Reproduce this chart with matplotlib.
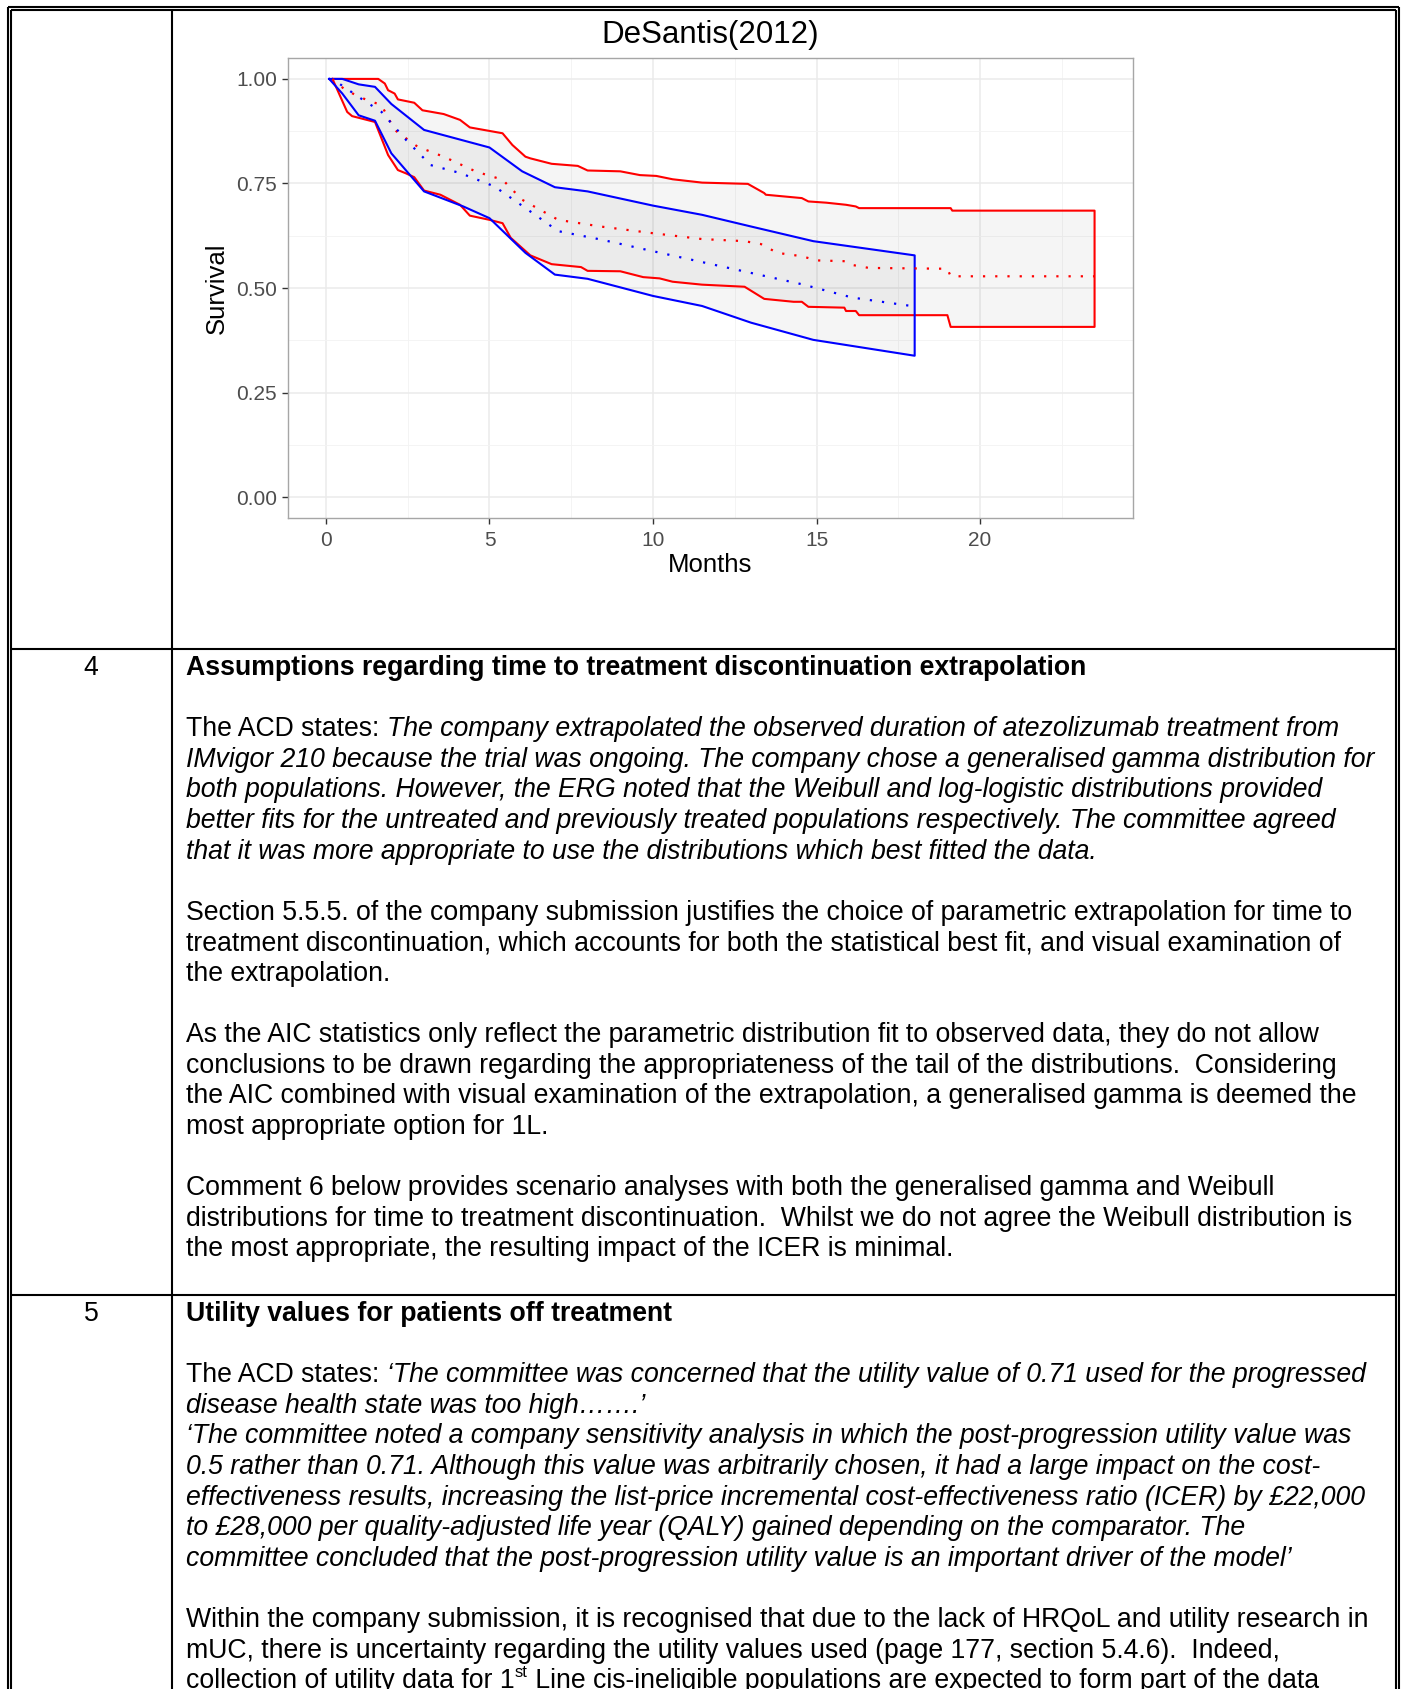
import matplotlib
matplotlib.use("Agg")
import matplotlib.pyplot as plt
from matplotlib.ticker import MultipleLocator, FormatStrFormatter

red_upper_t = [0.2, 1.6, 1.8, 1.9, 2.1, 2.2, 2.7, 2.95, 3.6, 4.1, 4.4, 5.4, 5.7, 6.1, 6.25,
               6.9, 7.7, 8.0, 9.0, 9.6, 10.1, 10.6, 11.5, 12.9, 13.4, 13.45, 14.55, 14.75,
               15.3, 15.9, 16.2, 16.3, 19.1, 19.15, 23.5]
red_upper_s = [1.0, 1.0, 0.989, 0.973, 0.965, 0.951, 0.943, 0.925, 0.916, 0.902, 0.884, 0.870,
               0.842, 0.814, 0.810, 0.797, 0.792, 0.781, 0.779, 0.770, 0.768, 0.760, 0.752,
               0.749, 0.727, 0.723, 0.715, 0.707, 0.704, 0.699, 0.695, 0.691, 0.691, 0.685, 0.685]
red_lower_t = [0.2, 0.65, 0.8, 1.5, 1.9, 2.2, 2.45, 2.7, 3.0, 3.5, 4.1, 4.4, 5.0, 5.4, 5.65,
               6.25, 6.9, 7.8, 8.0, 9.0, 9.7, 10.2, 10.6, 11.5, 12.8, 13.4, 14.3, 14.55, 14.75,
               15.3, 15.85, 15.9, 16.2, 16.3, 19.0, 19.1, 23.5]
red_lower_s = [1.0, 0.921, 0.911, 0.897, 0.818, 0.782, 0.774, 0.765, 0.733, 0.723, 0.699, 0.673,
               0.663, 0.655, 0.620, 0.578, 0.557, 0.550, 0.541, 0.540, 0.526, 0.523, 0.515,
               0.508, 0.503, 0.474, 0.467, 0.467, 0.455, 0.454, 0.453, 0.445, 0.445, 0.435,
               0.435, 0.407, 0.407]
red_mid_t = [0.2, 0.6, 1.15, 1.7, 2.1, 2.8, 3.6, 4.6, 5.4, 6.0, 7.1, 8.4, 10.0, 11.5, 12.8,
             13.3, 13.8, 14.55, 15.0, 15.9, 16.1, 16.6, 19.0, 19.1, 23.5]
red_mid_s = [1.0, 0.973, 0.953, 0.937, 0.878, 0.838, 0.814, 0.778, 0.759, 0.711, 0.663, 0.647,
             0.631, 0.617, 0.612, 0.605, 0.584, 0.576, 0.566, 0.564, 0.555, 0.548, 0.546,
             0.528, 0.528]
blue_upper_t = [0.1, 0.5, 1.0, 1.5, 2.0, 3.0, 5.0, 6.0, 7.0, 8.0, 10.0, 11.5, 13.0, 14.9, 18.0]
blue_upper_s = [1.0, 1.0, 0.987, 0.981, 0.940, 0.878, 0.836, 0.779, 0.741, 0.731, 0.697, 0.675,
                0.647, 0.612, 0.578]
blue_lower_t = [0.1, 0.5, 1.0, 1.5, 2.0, 3.0, 4.2, 5.0, 6.1, 7.0, 8.0, 10.0, 11.5, 13.0, 14.9, 18.0]
blue_lower_s = [1.0, 0.965, 0.913, 0.900, 0.822, 0.731, 0.695, 0.667, 0.584, 0.532, 0.522,
                0.481, 0.457, 0.417, 0.376, 0.338]
blue_mid_t = [0.1, 0.4, 1.15, 1.7, 2.45, 3.2, 4.1, 5.15, 6.25, 7.1, 8.4, 10.0, 11.5, 13.0,
              14.55, 16.1, 17.9]
blue_mid_s = [1.0, 0.989, 0.949, 0.921, 0.854, 0.794, 0.775, 0.743, 0.683, 0.636, 0.616, 0.588,
              0.562, 0.536, 0.509, 0.477, 0.457]

x_ticks = [0, 5, 10, 15, 20]
y_ticks = [0.00, 0.25, 0.50, 0.75, 1.00]

# ---- table text: (row number, heading, lines); "" is a blank line ----
row4_number = "4"
row4_heading = "Assumptions regarding time to treatment discontinuation extrapolation"
row4_lines = [
    "",
    [("The ACD states: ", "n"), ("The company extrapolated the observed duration of atezolizumab treatment from", "i")],
    [("IMvigor 210 because the trial was ongoing. The company chose a generalised gamma distribution for", "i")],
    [("both populations. However, the ERG noted that the Weibull and log-logistic distributions provided", "i")],
    [("better fits for the untreated and previously treated populations respectively. The committee agreed", "i")],
    [("that it was more appropriate to use the distributions which best fitted the data.", "i")],
    "",
    [("Section 5.5.5. of the company submission justifies the choice of parametric extrapolation for time to", "n")],
    [("treatment discontinuation, which accounts for both the statistical best fit, and visual examination of", "n")],
    [("the extrapolation.", "n")],
    "",
    [("As the AIC statistics only reflect the parametric distribution fit to observed data, they do not allow", "n")],
    [("conclusions to be drawn regarding the appropriateness of the tail of the distributions.  Considering", "n")],
    [("the AIC combined with visual examination of the extrapolation, a generalised gamma is deemed the", "n")],
    [("most appropriate option for 1L.", "n")],
    "",
    [("Comment 6 below provides scenario analyses with both the generalised gamma and Weibull", "n")],
    [("distributions for time to treatment discontinuation.  Whilst we do not agree the Weibull distribution is", "n")],
    [("the most appropriate, the resulting impact of the ICER is minimal.", "n")],
]
row5_number = "5"
row5_heading = "Utility values for patients off treatment"
row5_lines = [
    "",
    [("The ACD states: ", "n"), ("\u2018The committee was concerned that the utility value of 0.71 used for the progressed", "i")],
    [("disease health state was too high\u2026\u2026.\u2019", "i")],
    [("\u2018The committee noted a company sensitivity analysis in which the post-progression utility value was", "i")],
    [("0.5 rather than 0.71. Although this value was arbitrarily chosen, it had a large impact on the cost-", "i")],
    [("effectiveness results, increasing the list-price incremental cost-effectiveness ratio (ICER) by \u00a322,000", "i")],
    [("to \u00a328,000 per quality-adjusted life year (QALY) gained depending on the comparator. The", "i")],
    [("committee concluded that the post-progression utility value is an important driver of the model\u2019", "i")],
    "",
    [("Within the company submission, it is recognised that due to the lack of HRQoL and utility research in", "n")],
    [("mUC, there is uncertainty regarding the utility values used (page 177, section 5.4.6).  Indeed,", "n")],
    [("collection of utility data for 1", "n"), ("st", "sup"),
     (" Line cis-ineligible populations are expected to form part of the data", "n")],
]

W, H = 1402, 1689
plt.rcParams['font.family'] = ['Liberation Sans', 'DejaVu Sans']

fig = plt.figure(figsize=(W / 100, H / 100), dpi=100)
page = fig.add_axes([0, 0, 1, 1])
page.set_xlim(0, W)
page.set_ylim(H, 0)
page.axis('off')


def seg(xs, ys, lw=1.5):
    page.plot(xs, ys, color='black', lw=lw, solid_capstyle='butt')


# double outer border, column divider, row dividers
seg([7.5, 7.5], [6.5, H]); seg([11, 11], [10, H])
seg([1399, 1399], [6.5, H]); seg([1396, 1396], [10, H])
seg([7.5, 1399], [6.5, 6.5]); seg([11, 1396], [10, 10])
seg([172, 172], [10, H])
seg([11, 1396], [648.5, 648.5])
seg([11, 1396], [1295, 1295])

BODY = 19.2
LINE = 30.6
TX = 186
BASE = 9.5  # baseline offset from visual line centre


def write_line(y, parts):
    prev = None
    for txt, style in parts:
        kw = dict(fontsize=BODY, color='black')
        if style == 'i':
            kw['fontstyle'] = 'italic'
        elif style == 'b':
            kw['fontweight'] = 'bold'
        elif style == 'sup':
            kw['fontsize'] = BODY * 0.62
        if prev is None:
            prev = page.text(TX, y, txt, va='baseline', ha='left', **kw)
        else:
            lift = BODY * 0.42 if style == 'sup' else 0
            prev = page.annotate(txt, xy=(1, y), xycoords=(prev, 'data'),
                                 xytext=(0, lift), textcoords='offset points',
                                 va='baseline', ha='left', **kw)


def write_row(y0, number, heading, lines):
    page.text(91, y0 + BASE, number, fontsize=BODY, ha='center', va='baseline')
    write_line(y0 + BASE, [(heading, 'b')])
    y = y0
    for ln in lines:
        y += LINE
        if ln:
            write_line(y + BASE, ln)


write_row(665.5, row4_number, row4_heading, row4_lines)
write_row(1311.5, row5_number, row5_heading, row5_lines)

# ---- the survival panel ----
L, R, T, B = 287.5, 1133.0, 58.0, 518.0
ax = fig.add_axes([L / W, 1 - B / H, (R - L) / W, (B - T) / H])
ax.set_xlim(-1.175, 24.675)
ax.set_ylim(-0.05, 1.05)

for t_up, s_up, t_lo, s_lo, col in [
        (red_upper_t, red_upper_s, red_lower_t, red_lower_s, '#ff0000'),
        (blue_upper_t, blue_upper_s, blue_lower_t, blue_lower_s, '#0000ff')]:
    px = t_up + t_lo[::-1]
    py = s_up + s_lo[::-1]
    ax.fill(px, py, color='black', alpha=0.04, lw=0, zorder=2)

for t_up, s_up, t_lo, s_lo, col in [
        (red_upper_t, red_upper_s, red_lower_t, red_lower_s, '#ff0000'),
        (blue_upper_t, blue_upper_s, blue_lower_t, blue_lower_s, '#0000ff')]:
    px = t_up + t_lo[::-1] + t_up[:1]
    py = s_up + s_lo[::-1] + s_up[:1]
    ax.plot(px, py, color=col, lw=1.5, zorder=3)

ax.plot(red_mid_t, red_mid_s, color='#ff0000', lw=1.6, ls=(0, (1, 4.5)), zorder=4)
ax.plot(blue_mid_t, blue_mid_s, color='#0000ff', lw=1.6, ls=(0, (1, 4.5)), zorder=4)

ax.set_xticks(x_ticks)
ax.set_yticks(y_ticks)
ax.xaxis.set_minor_locator(MultipleLocator(2.5))
ax.yaxis.set_minor_locator(MultipleLocator(0.125))
ax.yaxis.set_major_formatter(FormatStrFormatter('%.2f'))
ax.grid(which='major', color='#ebebeb', lw=1.1, zorder=0)
ax.grid(which='minor', color='#f3f3f3', lw=0.6, zorder=0)
ax.set_axisbelow(True)
ax.tick_params(which='minor', length=0)
ax.tick_params(axis='x', which='major', length=4.5, width=1, color='#333333',
               labelsize=15, labelcolor='#4d4d4d', pad=4.5)
ax.tick_params(axis='y', which='major', length=4.5, width=1, color='#333333',
               labelsize=15, labelcolor='#4d4d4d', pad=3.2)
for sp in ax.spines.values():
    sp.set_color('#a6a6a6')
    sp.set_linewidth(1.0)

ax.set_title('DeSantis(2012)', fontsize=22.5, pad=10.5)
ax.set_xlabel('Months', fontsize=18.5, labelpad=2.5)
ax.set_ylabel('Survival', fontsize=18.5, labelpad=5)

fig.savefig('out.png', dpi=100)
